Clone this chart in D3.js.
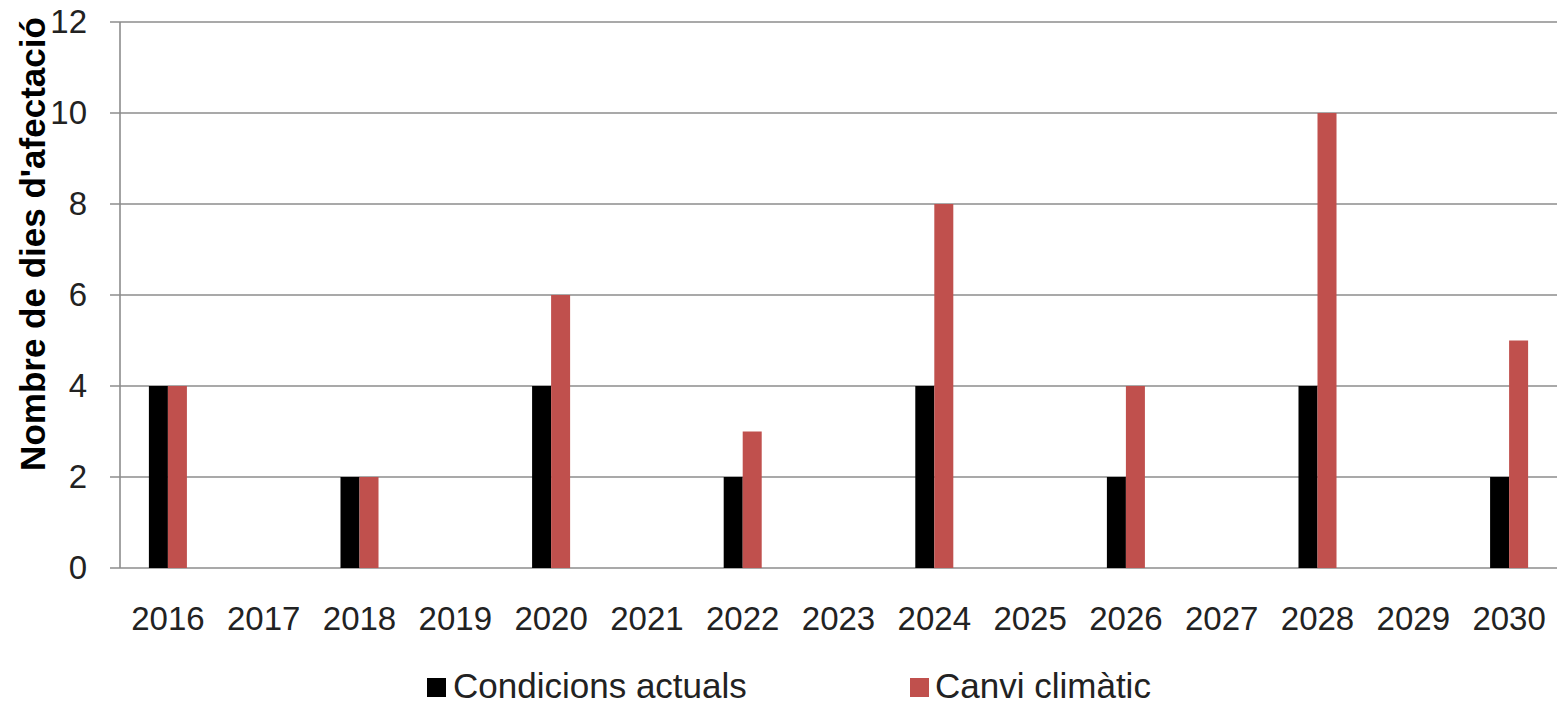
<!DOCTYPE html>
<html>
<head>
<meta charset="utf-8">
<script src="https://cdn.jsdelivr.net/npm/d3@7"></script>
<style>
  body { margin: 0; background: #fff; }
  text { font-family: "Liberation Sans", Arial, sans-serif; }
</style>
</head>
<body>
<svg width="1564" height="704"></svg>
<script>
var years = ['2016', '2017', '2018', '2019', '2020', '2021', '2022', '2023',
             '2024', '2025', '2026', '2027', '2028', '2029', '2030'];
var actuals = [4, 0, 2, 0, 4, 0, 2, 0, 4, 0, 2, 0, 4, 0, 2];
var climatic = [4, 0, 2, 0, 6, 0, 3, 0, 8, 0, 4, 0, 10, 0, 5];
var seriesNames = ['Condicions actuals', 'Canvi climàtic'];
var seriesColors = ['#000000', '#c0504d'];
var yTicks = [0, 2, 4, 6, 8, 10, 12];

var svg = d3.select('svg');
var plotLeft = 120, plotRight = 1557, plotTop = 22, plotBottom = 568;

var x0 = d3.scaleBand().domain(years).range([plotLeft, plotRight]).padding(0);
var x1 = d3.scaleBand().domain(seriesNames).range([0, x0.bandwidth()])
    .paddingInner(0).paddingOuter(1.52);
var y = d3.scaleLinear().domain([0, 12]).range([plotBottom, plotTop]);

// gridlines + tick marks
svg.append('g')
    .selectAll('line')
    .data(yTicks)
    .enter()
    .append('line')
    .attr('x1', plotLeft - 10)
    .attr('x2', plotRight)
    .attr('y1', function (d) { return y(d); })
    .attr('y2', function (d) { return y(d); })
    .attr('stroke', '#8c8c8c')
    .attr('stroke-width', 1.6);

// left axis line
svg.append('line')
    .attr('x1', plotLeft).attr('x2', plotLeft)
    .attr('y1', plotTop).attr('y2', plotBottom)
    .attr('stroke', '#8c8c8c')
    .attr('stroke-width', 1.6);

// y tick labels
svg.append('g')
    .selectAll('text')
    .data(yTicks)
    .enter()
    .append('text')
    .attr('x', 87)
    .attr('y', function (d) { return y(d) + 11; })
    .attr('text-anchor', 'end')
    .attr('font-size', 33)
    .attr('fill', '#222')
    .text(function (d) { return d; });

// bars
var table = years.map(function (yr, i) {
    return { year: yr, values: [actuals[i], climatic[i]] };
});

var groups = svg.append('g')
    .selectAll('g')
    .data(table)
    .enter()
    .append('g')
    .attr('transform', function (d) { return 'translate(' + x0(d.year) + ',0)'; });

groups.selectAll('rect')
    .data(function (d) {
        return d.values.map(function (v, k) { return { name: seriesNames[k], value: v, k: k }; });
    })
    .enter()
    .append('rect')
    .attr('x', function (d) { return x1(d.name); })
    .attr('width', x1.bandwidth())
    .attr('y', function (d) { return y(d.value); })
    .attr('height', function (d) { return y(0) - y(d.value); })
    .attr('fill', function (d) { return seriesColors[d.k]; });

// x labels
svg.append('g')
    .selectAll('text')
    .data(years)
    .enter()
    .append('text')
    .attr('x', function (d) { return x0(d) + x0.bandwidth() / 2; })
    .attr('y', 630)
    .attr('text-anchor', 'middle')
    .attr('font-size', 33)
    .attr('fill', '#222')
    .text(function (d) { return d; });

// y title
svg.append('text')
    .attr('transform', 'translate(45,244) rotate(-90)')
    .attr('text-anchor', 'middle')
    .attr('font-size', 35)
    .attr('font-weight', 'bold')
    .attr('fill', '#000')
    .text("Nombre de dies d'afectació");

// legend
var legendX = [427, 910];
var legend = svg.append('g')
    .selectAll('g')
    .data(seriesNames)
    .enter()
    .append('g')
    .attr('transform', function (d, i) { return 'translate(' + legendX[i] + ',0)'; });

legend.append('rect')
    .attr('x', 0).attr('y', 678)
    .attr('width', 19).attr('height', 19)
    .attr('fill', function (d, i) { return seriesColors[i]; });

legend.append('text')
    .attr('x', function (d, i) { return i === 0 ? 26 : 25; })
    .attr('y', 698)
    .attr('font-size', 35)
    .attr('fill', '#222')
    .text(function (d) { return d; });
</script>
</body>
</html>
